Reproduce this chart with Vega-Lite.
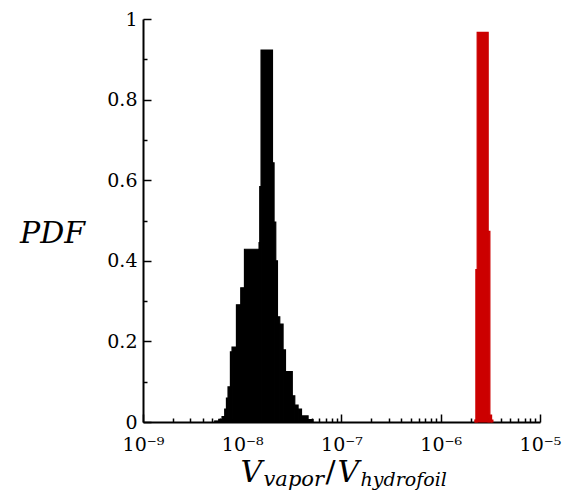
{
  "$schema": "https://vega.github.io/schema/vega-lite/v6.json",
  "width": 397,
  "height": 403,
  "autosize": {"type": "none"},
  "padding": {"left": 143, "top": 19, "right": 25, "bottom": 68},
  "background": "white",
  "config": {"view": {"stroke": null}, "font": "DejaVu Serif"},
  "datasets": {
    "hist": [
      {"series": "black", "x0": 5.28e-9, "x1": 5.80e-9, "pdf": 0.0025},
      {"series": "black", "x0": 5.80e-9, "x1": 6.26e-9, "pdf": 0.0067},
      {"series": "black", "x0": 6.26e-9, "x1": 6.66e-9, "pdf": 0.0137},
      {"series": "black", "x0": 6.66e-9, "x1": 6.93e-9, "pdf": 0.032},
      {"series": "black", "x0": 6.93e-9, "x1": 7.19e-9, "pdf": 0.059},
      {"series": "black", "x0": 7.19e-9, "x1": 7.60e-9, "pdf": 0.087},
      {"series": "black", "x0": 7.60e-9, "x1": 7.89e-9, "pdf": 0.174},
      {"series": "black", "x0": 7.89e-9, "x1": 8.74e-9, "pdf": 0.186},
      {"series": "black", "x0": 8.74e-9, "x1": 9.66e-9, "pdf": 0.291},
      {"series": "black", "x0": 9.66e-9, "x1": 1.0525e-8, "pdf": 0.333},
      {"series": "black", "x0": 1.0525e-8, "x1": 1.4768e-8, "pdf": 0.4286},
      {"series": "black", "x0": 1.4768e-8, "x1": 1.501e-8, "pdf": 0.445},
      {"series": "black", "x0": 1.501e-8, "x1": 1.547e-8, "pdf": 0.584},
      {"series": "black", "x0": 1.547e-8, "x1": 2.016e-8, "pdf": 0.923},
      {"series": "black", "x0": 2.016e-8, "x1": 2.092e-8, "pdf": 0.643},
      {"series": "black", "x0": 2.092e-8, "x1": 2.176e-8, "pdf": 0.496},
      {"series": "black", "x0": 2.176e-8, "x1": 2.263e-8, "pdf": 0.400},
      {"series": "black", "x0": 2.263e-8, "x1": 2.388e-8, "pdf": 0.261},
      {"series": "black", "x0": 2.388e-8, "x1": 2.578e-8, "pdf": 0.243},
      {"series": "black", "x0": 2.578e-8, "x1": 2.726e-8, "pdf": 0.179},
      {"series": "black", "x0": 2.726e-8, "x1": 3.192e-8, "pdf": 0.125},
      {"series": "black", "x0": 3.192e-8, "x1": 3.382e-8, "pdf": 0.065},
      {"series": "black", "x0": 3.382e-8, "x1": 3.652e-8, "pdf": 0.042},
      {"series": "black", "x0": 3.652e-8, "x1": 3.953e-8, "pdf": 0.032},
      {"series": "black", "x0": 3.953e-8, "x1": 4.606e-8, "pdf": 0.015},
      {"series": "black", "x0": 4.606e-8, "x1": 5.172e-8, "pdf": 0.006},
      {"series": "red", "x0": 2.207e-6, "x1": 2.259e-6, "pdf": 0.005},
      {"series": "red", "x0": 2.259e-6, "x1": 2.328e-6, "pdf": 0.378},
      {"series": "red", "x0": 2.328e-6, "x1": 3.005e-6, "pdf": 0.967},
      {"series": "red", "x0": 3.005e-6, "x1": 3.126e-6, "pdf": 0.473},
      {"series": "red", "x0": 3.126e-6, "x1": 3.252e-6, "pdf": 0.017},
      {"series": "red", "x0": 3.252e-6, "x1": 3.352e-6, "pdf": 0.005}
    ]
  },
  "layer": [
    {
      "data": {"name": "hist"},
      "mark": {"type": "rect", "strokeWidth": 1.2},
      "encoding": {
        "x": {
          "field": "x0",
          "type": "quantitative",
          "scale": {"type": "log", "domain": [1e-9, 1e-5], "nice": false},
          "axis": {
            "title": null,
            "grid": false,
            "values": [1e-9, 2e-9, 3e-9, 4e-9, 5e-9, 6e-9, 7e-9, 8e-9, 9e-9, 1e-8, 2e-8, 3e-8, 4e-8, 5e-8, 6e-8, 7e-8, 8e-8, 9e-8, 1e-7, 2e-7, 3e-7, 4e-7, 5e-7, 6e-7, 7e-7, 8e-7, 9e-7, 1e-6, 2e-6, 3e-6, 4e-6, 5e-6, 6e-6, 7e-6, 8e-6, 9e-6, 1e-5],
            "labelExpr": "datum.value == 1e-9 ? '10⁻⁹' : datum.value == 1e-8 ? '10⁻⁸' : datum.value == 1e-7 ? '10⁻⁷' : datum.value == 1e-6 ? '10⁻⁶' : datum.value == 1e-5 ? '10⁻⁵' : ''",
            "labelFont": "DejaVu Serif",
            "labelFontSize": 19,
            "labelColor": "black",
            "labelFlush": false,
            "labelOverlap": false,
            "labelPadding": 21,
            "tickSize": -8,
            "tickWidth": 1.5,
            "tickColor": "black",
            "tickDash": {"condition": {"test": "datum.value == 1e-9 || datum.value == 1e-8 || datum.value == 1e-7 || datum.value == 1e-6 || datum.value == 1e-5", "value": []}, "value": [4, 20]},
            "domainColor": "black",
            "domainWidth": 2
          }
        },
        "x2": {"field": "x1"},
        "y": {
          "field": "pdf",
          "type": "quantitative",
          "scale": {"domain": [0, 1], "nice": false},
          "axis": {
            "title": "PDF",
            "titleAngle": 0,
            "titleFont": "DejaVu Serif",
            "titleFontStyle": "italic",
            "titleFontWeight": "normal",
            "titleFontSize": 30,
            "titleColor": "black",
            "titleX": -91,
            "titleY": 223,
            "titleAlign": "center",
            "titleBaseline": "alphabetic",
            "grid": false,
            "values": [0, 0.05, 0.1, 0.15, 0.2, 0.25, 0.3, 0.35, 0.4, 0.45, 0.5, 0.55, 0.6, 0.65, 0.7, 0.75, 0.8, 0.85, 0.9, 0.95, 1],
            "labelExpr": "round(datum.value * 100) % 20 == 0 ? format(datum.value, '~g') : ''",
            "labelFont": "DejaVu Serif",
            "labelFontSize": 19,
            "labelColor": "black",
            "labelFlush": false,
            "labelOverlap": false,
            "labelPadding": 14,
            "tickSize": -8,
            "tickWidth": 1.5,
            "tickColor": "black",
            "tickDash": {"condition": {"test": "round(datum.value * 100) % 20 == 0", "value": []}, "value": [4, 20]},
            "domainColor": "black",
            "domainWidth": 2
          }
        },
        "y2": {"datum": 0},
        "color": {"field": "series", "type": "nominal", "scale": {"domain": ["black", "red"], "range": ["#000000", "#cc0000"]}, "legend": null},
        "stroke": {"field": "series", "type": "nominal", "scale": {"domain": ["black", "red"], "range": ["#000000", "#cc0000"]}, "legend": null}
      }
    },
    {
      "data": {"values": [{"t": "V"}]},
      "mark": {"type": "text", "font": "DejaVu Serif", "fontStyle": "italic", "fontSize": 30, "align": "left", "baseline": "alphabetic", "dx": -101, "dy": 60, "color": "black"},
      "encoding": {"x": {"datum": 1e-7, "type": "quantitative"}, "y": {"datum": 0, "type": "quantitative"}, "text": {"field": "t"}}
    },
    {
      "data": {"values": [{"t": "vapor"}]},
      "mark": {"type": "text", "font": "DejaVu Serif", "fontStyle": "italic", "fontSize": 21, "align": "left", "baseline": "alphabetic", "dx": -78, "dy": 64, "color": "black"},
      "encoding": {"x": {"datum": 1e-7, "type": "quantitative"}, "y": {"datum": 0, "type": "quantitative"}, "text": {"field": "t"}}
    },
    {
      "data": {"values": [{"t": "/"}]},
      "mark": {"type": "text", "font": "DejaVu Serif", "fontSize": 30, "align": "left", "baseline": "alphabetic", "dx": -16, "dy": 60, "color": "black"},
      "encoding": {"x": {"datum": 1e-7, "type": "quantitative"}, "y": {"datum": 0, "type": "quantitative"}, "text": {"field": "t"}}
    },
    {
      "data": {"values": [{"t": "V"}]},
      "mark": {"type": "text", "font": "DejaVu Serif", "fontStyle": "italic", "fontSize": 30, "align": "left", "baseline": "alphabetic", "dx": -4, "dy": 60, "color": "black"},
      "encoding": {"x": {"datum": 1e-7, "type": "quantitative"}, "y": {"datum": 0, "type": "quantitative"}, "text": {"field": "t"}}
    },
    {
      "data": {"values": [{"t": "hydrofoil"}]},
      "mark": {"type": "text", "font": "DejaVu Serif", "fontStyle": "italic", "fontSize": 19, "align": "left", "baseline": "alphabetic", "dx": 19, "dy": 64, "color": "black"},
      "encoding": {"x": {"datum": 1e-7, "type": "quantitative"}, "y": {"datum": 0, "type": "quantitative"}, "text": {"field": "t"}}
    }
  ]
}
